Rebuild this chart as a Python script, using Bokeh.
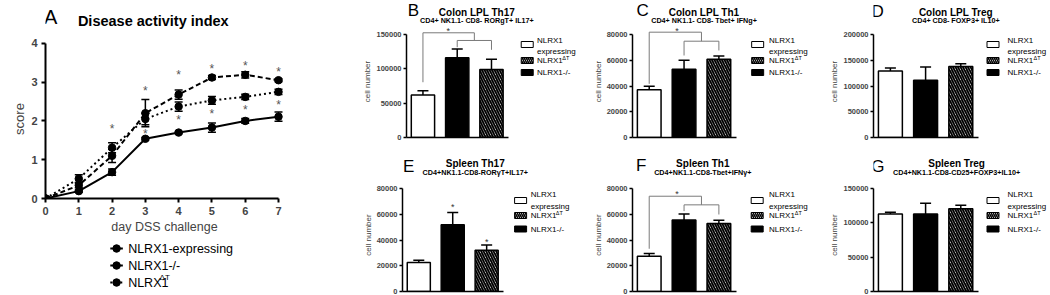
import math
from bokeh.plotting import figure
from bokeh.models import (Range1d, FixedTicker, Whisker, TeeHead, ColumnDataSource,
                          BasicTickFormatter)
from bokeh.layouts import row, column
from bokeh.embed import file_html
from bokeh.resources import INLINE
from bokeh.core.properties import value

FONT = "Liberation Sans"

# ---------------- Panel A data: disease activity index ----------------
days = [0, 1, 2, 3, 4, 5, 6, 7]
dai_expressing = [0, 0.19, 0.68, 1.54, 1.70, 1.83, 2.00, 2.11]
dai_expressing_err = [0, 0.03, 0.08, 0.03, 0.03, 0.12, 0.06, 0.12]
dai_knockout = [0, 0.34, 1.10, 2.20, 2.68, 3.12, 3.19, 3.05]
dai_knockout_err = [0, 0.06, 0.17, 0.35, 0.12, 0.05, 0.08, 0.04]
dai_deltat = [0, 0.51, 1.31, 2.05, 2.37, 2.53, 2.62, 2.75]
dai_deltat_err = [0, 0.10, 0.13, 0.15, 0.12, 0.10, 0.07, 0.07]
score_ticks = [0, 1, 2, 3, 4]
star_days = [2, 3, 3, 4, 4, 5, 5, 6, 6, 7, 7]
star_scores = [1.86, 2.86, 1.73, 3.27, 2.10, 3.41, 2.26, 3.50, 2.36, 3.33, 2.48]
series_names = ["NLRX1-expressing", "NLRX1-/-", "NLRX1"]
series_dash = ["solid", "5 3", "2 3"]

# ---------------- Bar panels data (cell numbers) ----------------
bar_positions = [1, 2, 3]          # order: expressing, -/-, deltaT
colon_th17 = [62000, 116000, 99000]
colon_th17_err = [6000, 13000, 15000]
colon_th1 = [37000, 53000, 60700]
colon_th1_err = [2800, 7000, 2600]
colon_treg = [129000, 111000, 138000]
colon_treg_err = [6000, 26000, 5000]
spleen_th17 = [22500, 51800, 32000]
spleen_th17_err = [1800, 9500, 4200]
spleen_th1 = [27400, 55600, 52800]
spleen_th1_err = [2200, 4500, 2600]
spleen_treg = [113000, 113000, 120500]
spleen_treg_err = [2500, 15500, 5000]

ticks_150k = [0, 50000, 100000, 150000]
ticks_80k = [0, 20000, 40000, 60000, 80000]
ticks_200k = [0, 50000, 100000, 150000, 200000]

bar_fill = ["white", "black", "white"]
bar_hatch = [None, None, "left_diagonal_line"]


def clean(p):
    p.xgrid.visible = False
    p.ygrid.visible = False
    p.outline_line_color = None
    p.background_fill_color = "white"
    p.border_fill_color = "white"
    return p


def text_fig(width, height, y0=0):
    """A figure whose frame is the whole area, in pixel coordinates (y down)."""
    p = figure(width=width, height=height, x_range=Range1d(0, width),
               y_range=Range1d(y0 + height, y0), output_backend="svg",
               toolbar_location=None, x_axis_location=None, y_axis_location=None,
               min_border=0)
    return clean(p)


def txt(p, x, y, text, size, bold=False, align="center", angle=0.0, color="black",
        y_offset=0):
    p.text(x=[x], y=[y], text=[text], text_font=value(FONT),
           text_font_size=f"{size}px", text_font_style="bold" if bold else "normal",
           text_align=align, text_baseline="middle", angle=angle,
           text_color=color, y_offset=y_offset)


def style_axis(ax, size, width, tick_out, standoff):
    ax.axis_line_width = width
    ax.major_tick_line_width = width
    ax.major_tick_out = tick_out
    ax.major_tick_in = 0
    ax.minor_tick_out = 0
    ax.minor_tick_in = 0
    ax.major_label_text_font = FONT
    ax.major_label_text_font_size = size
    ax.major_label_text_font_style = "bold"
    ax.major_label_standoff = standoff
    ax.axis_label_text_font = FONT
    ax.axis_label_text_font_style = "normal"


# ====================== Panel A ======================
A_W = 360
AX0, AY0 = 45, 198          # page px of data origin
AXS = 33.3
A_HEAD = 36
A_MAIN_BOTTOM = 238
a_xend, a_yend = 7.15, 4.1
a_fw = round(a_xend * AXS)
a_fh = 159

ha = text_fig(A_W, A_HEAD)
txt(ha, 8, 16, "A", 20)
txt(ha, 163, 20, "Disease activity index", 14.5, bold=True)

pa = figure(width=A_W, height=A_MAIN_BOTTOM - A_HEAD,
            x_range=Range1d(0, a_xend), y_range=Range1d(0, a_yend),
            output_backend="svg", toolbar_location=None,
            min_border_left=AX0, min_border_right=A_W - AX0 - a_fw,
            min_border_top=AY0 - a_fh - A_HEAD, min_border_bottom=A_MAIN_BOTTOM - AY0)
clean(pa)
pa.xaxis.ticker = FixedTicker(ticks=days)
pa.yaxis.ticker = FixedTicker(ticks=score_ticks)
pa.xaxis.bounds = (0, 7)
pa.yaxis.bounds = (0, 4)
style_axis(pa.xaxis[0], "11px", 2, 4, 4)
style_axis(pa.yaxis[0], "11px", 2, 4, 4)
pa.xaxis.axis_label = "day DSS challenge"
pa.xaxis.axis_label_text_font_size = "12.5px"
pa.xaxis.axis_label_standoff = 2
pa.yaxis.axis_label = "score"
pa.yaxis.axis_label_text_font_size = "13px"
pa.yaxis.axis_label_standoff = 1

for vals, errs, dash in zip([dai_expressing, dai_knockout, dai_deltat],
                            [dai_expressing_err, dai_knockout_err, dai_deltat_err],
                            series_dash):
    src = ColumnDataSource(dict(x=days, y=vals))
    pa.line("x", "y", source=src, line_width=2, line_color="black", line_dash=dash)
    pa.scatter("x", "y", source=src, size=7.5, marker="circle",
               fill_color="black", line_color="black")
    wx = [d for d, e in zip(days, errs) if e > 0]
    lo = [v - e for v, e in zip(vals, errs) if e > 0]
    hi = [v + e for v, e in zip(vals, errs) if e > 0]
    wsrc = ColumnDataSource(dict(x=wx, lo=lo, hi=hi))
    pa.add_layout(Whisker(source=wsrc, base="x", lower="lo", upper="hi",
                          line_width=1.5, line_color="black",
                          upper_head=TeeHead(size=8, line_width=1.5, line_color="black"),
                          lower_head=TeeHead(size=8, line_width=1.5, line_color="black")))

pa.text(x=star_days, y=star_scores, text=["*"] * len(star_days),
        text_font=value(FONT), text_font_size="12px", text_color="#555555",
        text_align="center", text_baseline="middle", y_offset=3)

# legend of panel A (own strip below the plot, pixel coordinates)
la = text_fig(A_W, 295 - A_MAIN_BOTTOM, y0=A_MAIN_BOTTOM)
leg_rows = [248, 265, 282]
for yrow, name, dash in zip(leg_rows, series_names, series_dash):
    la.line([98, 117], [yrow, yrow], line_width=2, line_color="black", line_dash=dash)
    la.scatter([107.5], [yrow], size=7.5, marker="circle", fill_color="black",
               line_color="black")
    txt(la, 125, yrow, name, 12.5, align="left")
txt(la, 172.5, leg_rows[2] - 5, "\u0394T", 8, align="left")

panel_a = column(ha, pa, la)

# ====================== Bar panels ======================
PXU = 35.2
X0 = 0.52
P_W = 230


def bar_panel(letter, letter_xy, title, subtitle, title_x, vals, errs, ticks, L,
              top_row, sw_x, tx_x, brackets=(), stars=()):
    if top_row:
        PH, HH, FB, T = 148, 25, 137, 34
        srow, t1, t2 = [44, 60, 72], 40, 50.5
        ty, sty = 11.5, 20
    else:
        PH, HH, FB, T = 147, 30, 143, 40
        srow, t1, t2 = [52, 67, 80.5], 46, 57.5
        ty, sty = 15, 23.5
    V = ticks[-1]

    # header strip with letter, title, subtitle
    h = text_fig(P_W, HH)
    txt(h, letter_xy[0], letter_xy[1], letter, 17)
    txt(h, title_x, ty, title, 10, bold=True)
    txt(h, title_x, sty, subtitle, 7.2, bold=True)

    yr = Range1d(0, V * (FB - HH) / (FB - T))
    xr = Range1d(X0, X0 + (P_W - L) / PXU)
    p = figure(width=P_W, height=PH - HH, x_range=xr, y_range=yr,
               output_backend="svg", toolbar_location=None,
               min_border_left=L, min_border_right=0, min_border_top=0,
               min_border_bottom=PH - FB)
    clean(p)

    def dx(px):
        return X0 + (px - L) / PXU

    def dy(py):
        return (FB - py) / (FB - T) * V

    p.yaxis.ticker = FixedTicker(ticks=ticks)
    p.yaxis.formatter = BasicTickFormatter(use_scientific=False)
    p.yaxis.bounds = (0, V)
    p.xaxis.ticker = FixedTicker(ticks=[])
    p.xaxis.bounds = (X0, 3.5)
    style_axis(p.xaxis[0], "7.5px", 1.5, 0, 0)
    style_axis(p.yaxis[0], "7.5px", 1.5, 3, 2)
    p.yaxis.axis_label = "cell number"
    p.yaxis.axis_label_text_font_size = "8px"
    p.yaxis.axis_label_standoff = 1

    for i, xpos in enumerate(bar_positions):
        src = ColumnDataSource(dict(x=[xpos], top=[vals[i]]))
        kw = dict(fill_color=bar_fill[i], line_color="black", line_width=1.5)
        if bar_hatch[i]:
            kw.update(hatch_pattern=bar_hatch[i], hatch_color="black",
                      hatch_weight=1.9, hatch_scale=5)
        p.vbar(x="x", top="top", bottom=0, width=0.68, source=src, **kw)
    wsrc = ColumnDataSource(dict(x=bar_positions, lo=vals,
                                 hi=[v + e for v, e in zip(vals, errs)]))
    p.add_layout(Whisker(source=wsrc, base="x", lower="lo", upper="hi",
                         line_width=1.5, line_color="black", lower_head=None,
                         upper_head=TeeHead(size=11, line_width=1.5, line_color="black")))

    if brackets:
        xs = [[x for x, _ in b] for b in brackets]
        ys = [[y for _, y in b] for b in brackets]
        p.multi_line(xs, ys, line_color="#7a7a7a", line_width=1)
    for sx, sy in stars:
        txt(p, sx, sy, "*", 9, color="#333333", y_offset=2)

    # legend: swatches and texts inside the (widened) frame
    legend_order = [0, 2, 1]  # expressing, deltaT, -/-
    for r, gi in enumerate(legend_order):
        kw = dict(fill_color=bar_fill[gi], line_color="black", line_width=1)
        if bar_hatch[gi]:
            kw.update(hatch_pattern=bar_hatch[gi], hatch_color="black",
                      hatch_weight=1.5, hatch_scale=4)
        p.rect(x=[dx(sw_x)], y=[dy(srow[r])], width=12, height=6,
               width_units="screen", height_units="screen", **kw)
    txt(p, dx(tx_x), dy(t1), "NLRX1", 8, align="left")
    txt(p, dx(tx_x), dy(t2), "expressing", 8, align="left")
    txt(p, dx(tx_x), dy(srow[1]), "NLRX1", 8, align="left")
    txt(p, dx(tx_x + 26), dy(srow[1] - 3), "\u0394T", 5.5, align="left")
    txt(p, dx(tx_x), dy(srow[2]), "NLRX1-/-", 8, align="left")
    return column(h, p)


pB = bar_panel("B", (8.5, 9.5), "Colon LPL Th17", "CD4+ NK1.1- CD8- RORgT+ IL17+", 88,
               colon_th17, colon_th17_err, ticks_150k, 41, True, 165, 175,
               brackets=[[(1, 80500), (1, 152500), (2.5, 152500), (2.5, 141300)],
                         [(2, 131500), (2, 141300), (3, 141300), (3, 127700)]],
               stars=[(1.74, 157500)])
pC = bar_panel("C", (12.5, 10), "Colon LPL Th1", "CD4+ NK1.1- CD8- Tbet+ IFNg+", 87.5,
               colon_th1, colon_th1_err, ticks_80k, 40, True, 166.5, 178,
               brackets=[[(1, 41700), (1, 81800), (2.5, 81800), (2.5, 74800)],
                         [(2, 63700), (2, 74800), (3, 74800), (3, 67600)]],
               stars=[(1.8, 84200)])
pD = bar_panel("D", (5.3, 11), "Colon LPL Treg", "CD4+ CD8- FOXP3+ IL10+", 107,
               colon_treg, colon_treg_err, ticks_200k, 53, True, 172.5, 187)
pE = bar_panel("E", (7.5, 18), "Spleen Th17", "CD4+NK1.1-CD8-ROR\u03b3T+IL17+", 89,
               spleen_th17, spleen_th17_err, ticks_80k, 35, False, 157.5, 168,
               stars=[(2, 67000), (3, 40000)])
pF = bar_panel("F", (10.5, 17), "Spleen Th1", "CD4+NK1.1-CD8-Tbet+IFN\u03b3+", 86,
               spleen_th1, spleen_th1_err, ticks_80k, 40, False, 166, 178,
               brackets=[[(1, 33200), (1, 74000), (2.5, 74000), (2.5, 67300)],
                         [(2, 62400), (2, 67300), (3, 67300), (3, 59800)]],
               stars=[(1.8, 77500)])
pG = bar_panel("G", (5.8, 18), "Spleen Treg", "CD4+NK1.1-CD8-CD25+FOXP3+IL10+", 108,
               spleen_treg, spleen_treg_err, ticks_150k, 53, False, 172.5, 187)

layout = row(panel_a, column(row(pB, pC, pD), row(pE, pF, pG)))

with open("out.html", "w") as f:
    f.write(file_html(layout, INLINE))
